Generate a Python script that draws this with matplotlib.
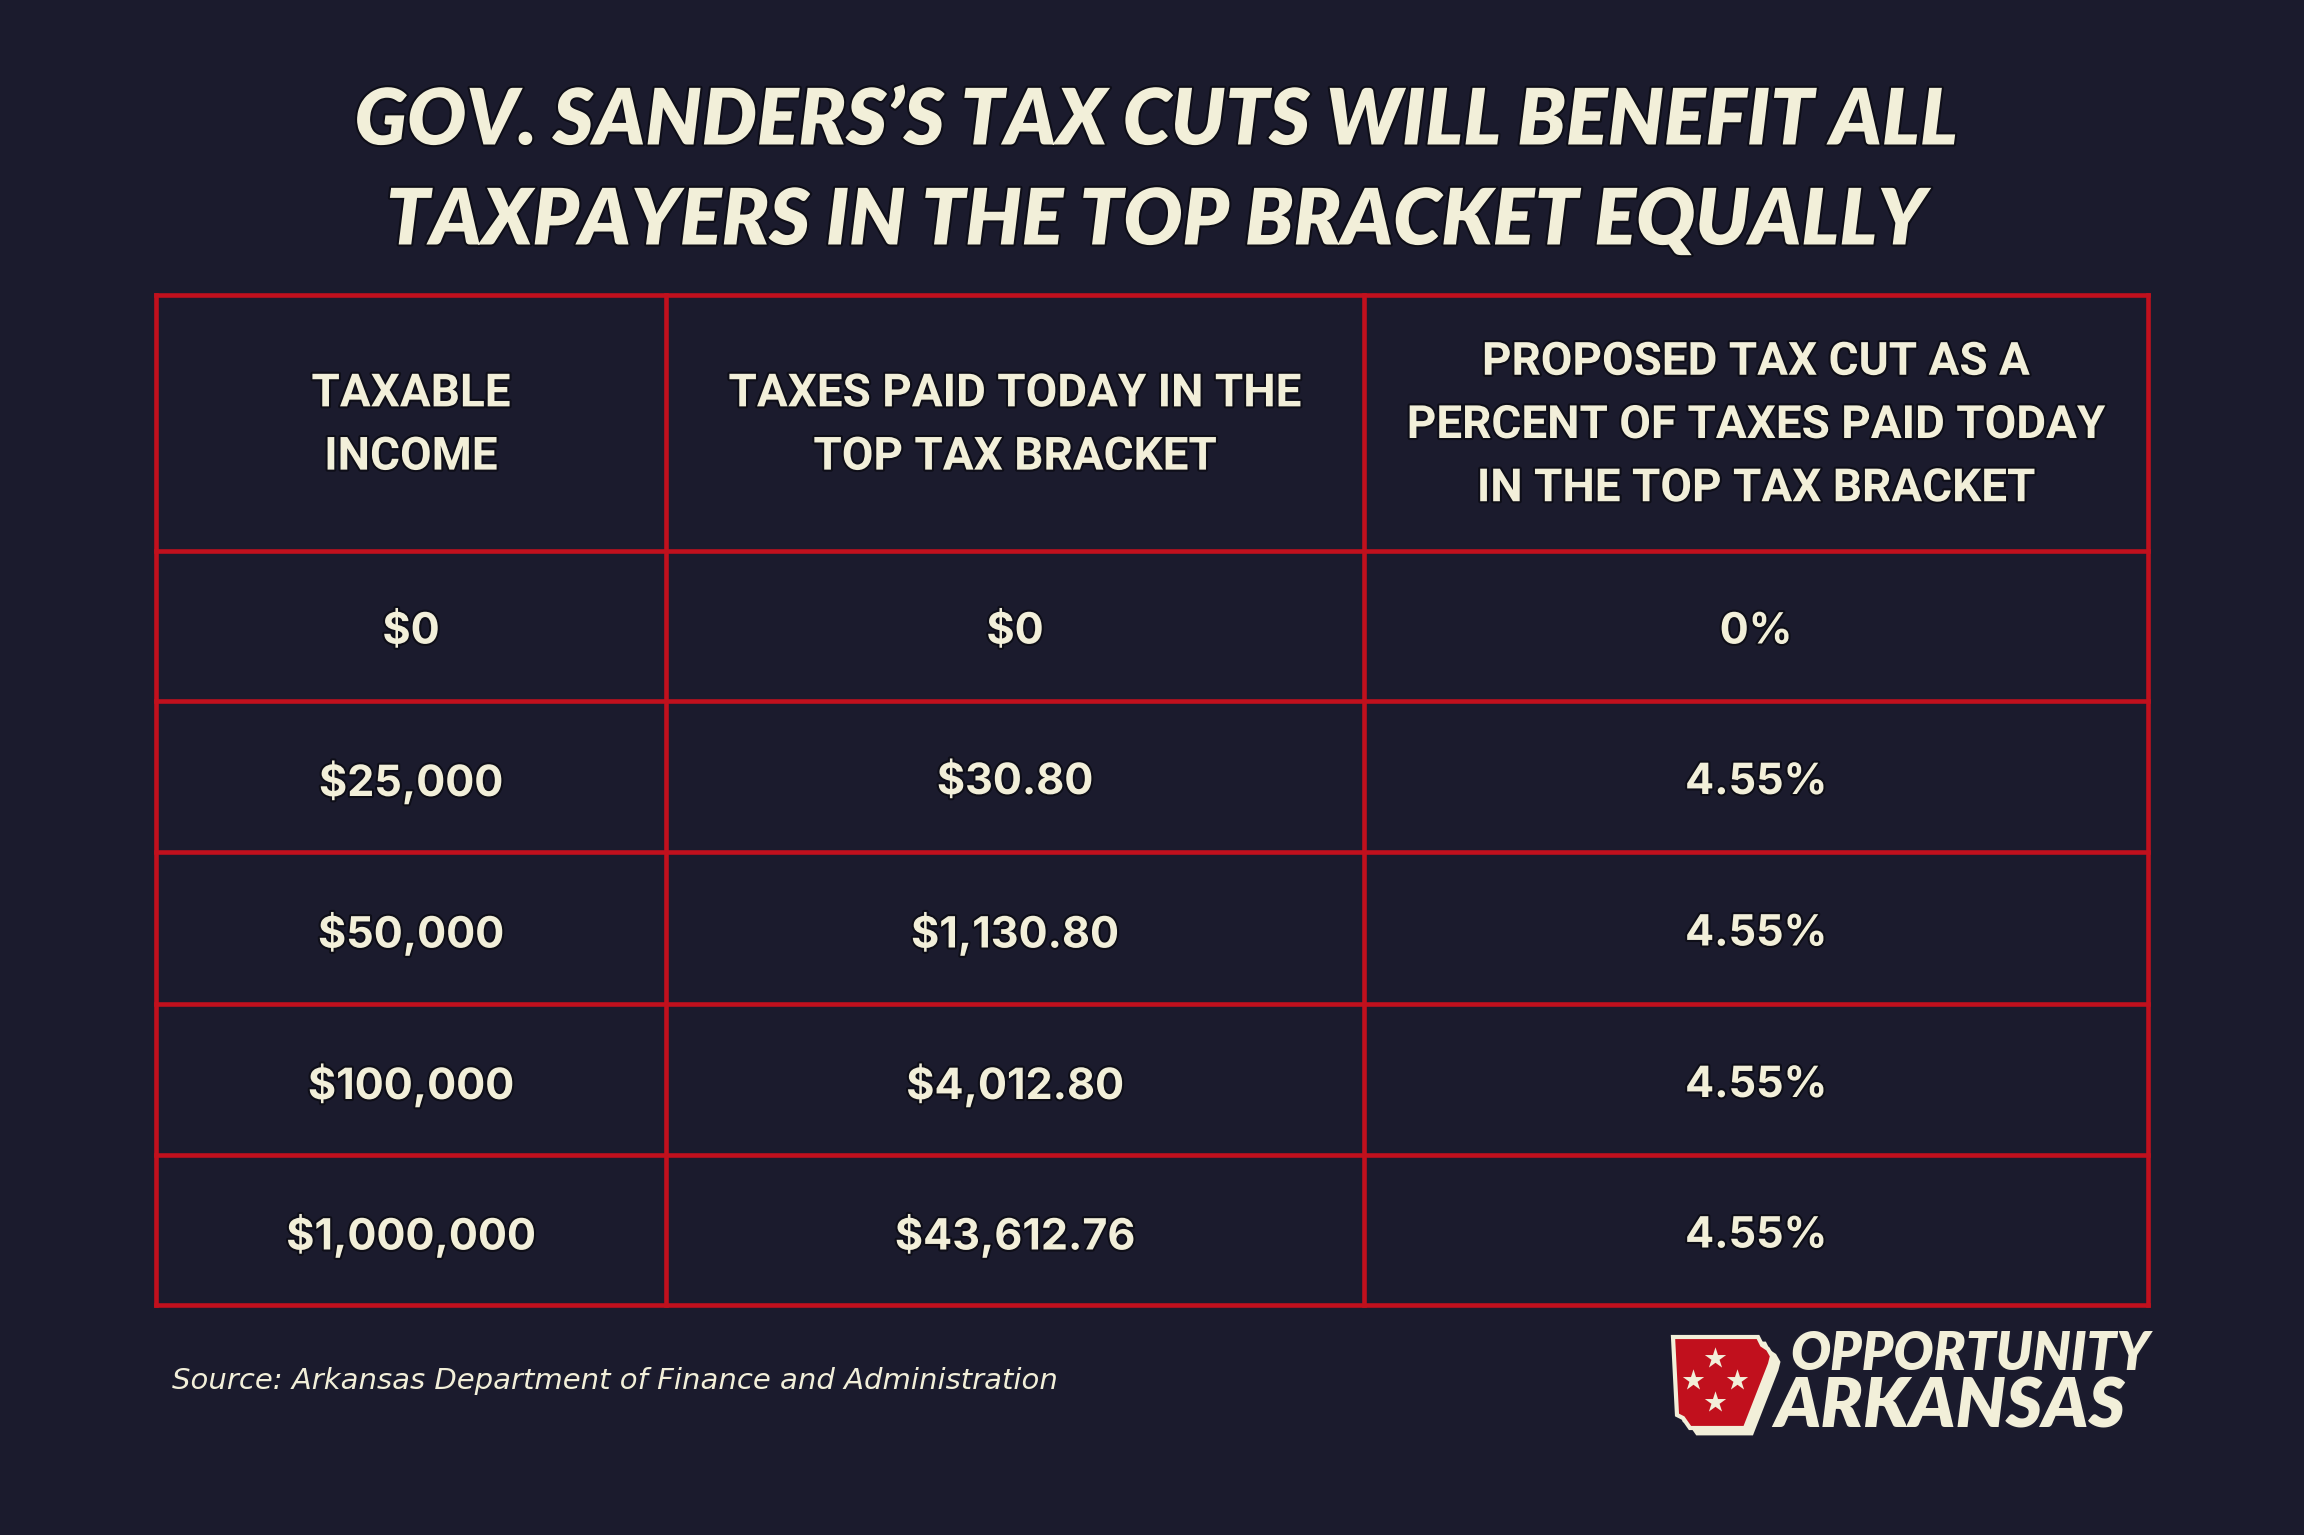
import matplotlib
matplotlib.use("Agg")
import matplotlib.pyplot as plt
from matplotlib.patches import Polygon
import matplotlib.patheffects as pe

# Table content
title_lines = ["GOV. SANDERS\u2019S TAX CUTS WILL BENEFIT ALL",
               "TAXPAYERS IN THE TOP BRACKET EQUALLY"]
headers = ["TAXABLE\nINCOME",
           "TAXES PAID TODAY IN THE\nTOP TAX BRACKET",
           "PROPOSED TAX CUT AS A\nPERCENT OF TAXES PAID TODAY\nIN THE TOP TAX BRACKET"]
income = ["$0", "$25,000", "$50,000", "$100,000", "$1,000,000"]
taxes_paid = ["$0", "$30.80", "$1,130.80", "$4,012.80", "$43,612.76"]
pct_cut = ["0%", "4.55%", "4.55%", "4.55%", "4.55%"]
source = "Source: Arkansas Department of Finance and Administration"

BG = "#1b1b2d"
RED = "#c1101d"
CREAM = "#f2efd9"

W, H = 2304, 1535
fig = plt.figure(figsize=(W / 100, H / 100), dpi=100, facecolor=BG)
ax = fig.add_axes([0, 0, 1, 1])
ax.set_xlim(0, W)
ax.set_ylim(H, 0)
ax.axis("off")
ax.set_facecolor(BG)

shadow = [pe.withStroke(linewidth=3, foreground="#0e0e18")]

# title
for i, line in enumerate(title_lines):
    ax.text(W / 2 + 4, 122 + i * 100, line, ha="center", va="center",
            fontsize=56, fontweight="heavy", fontstyle="italic",
            family=["Lato", "DejaVu Sans"], color=CREAM, path_effects=shadow)

# grid geometry
col_x = [156, 666, 1364, 2148]
row_y = [295, 551, 701, 852, 1004, 1155, 1305]

for x in col_x:
    ax.plot([x, x], [row_y[0], row_y[-1]], color=RED, lw=3.3, solid_capstyle="projecting")
for y in row_y:
    ax.plot([col_x[0], col_x[-1]], [y, y], color=RED, lw=3.3, solid_capstyle="projecting")

col_c = [(col_x[i] + col_x[i + 1]) / 2 for i in range(3)]

for j, h in enumerate(headers):
    ax.text(col_c[j], (row_y[0] + row_y[1]) / 2 + 2, h, ha="center", va="center",
            fontsize=33, fontweight="bold", family=["Roboto", "DejaVu Sans"],
            color=CREAM, linespacing=1.55, path_effects=shadow)

columns = [income, taxes_paid, pct_cut]
for j, col in enumerate(columns):
    for i, val in enumerate(col):
        yc = (row_y[i + 1] + row_y[i + 2]) / 2 + 6
        ax.text(col_c[j], yc, val, ha="center", va="center",
                fontsize=31, fontweight="bold", family=["Inter", "DejaVu Sans"],
                color=CREAM, path_effects=shadow)

# source note
ax.text(172, 1381, source, ha="left", va="center", fontsize=21,
        fontstyle="italic", family=["DejaVu Sans"], color=CREAM)

# logo: state outline with shadow, stars, wordmark
state = [(1673, 1337), (1758, 1337), (1762, 1345), (1768, 1349), (1772, 1356),
         (1770, 1364), (1745, 1428), (1690, 1428), (1683, 1418), (1677, 1415)]
ax.add_patch(Polygon([(x + 7, y + 6) for x, y in state], closed=True,
                     facecolor=CREAM, edgecolor=CREAM, lw=2, zorder=3))
ax.add_patch(Polygon(state, closed=True, facecolor=RED, edgecolor=CREAM,
                     lw=3, zorder=4))
star_x = [1715, 1693, 1737, 1715]
star_y = [1358, 1380, 1380, 1402]
ax.scatter(star_x, star_y, marker="*", s=260, color=CREAM, zorder=5, linewidths=0)
ax.text(1790, 1355, "OPPORTUNITY", ha="left", va="center", fontsize=38,
        fontweight="heavy", fontstyle="italic", family=["Lato", "DejaVu Sans"],
        color=CREAM, zorder=5)
ax.text(1774, 1407, "ARKANSAS", ha="left", va="center", fontsize=50,
        fontweight="heavy", fontstyle="italic", family=["Lato", "DejaVu Sans"],
        color=CREAM, zorder=5)

fig.savefig("out.png", dpi=100, facecolor=BG)
